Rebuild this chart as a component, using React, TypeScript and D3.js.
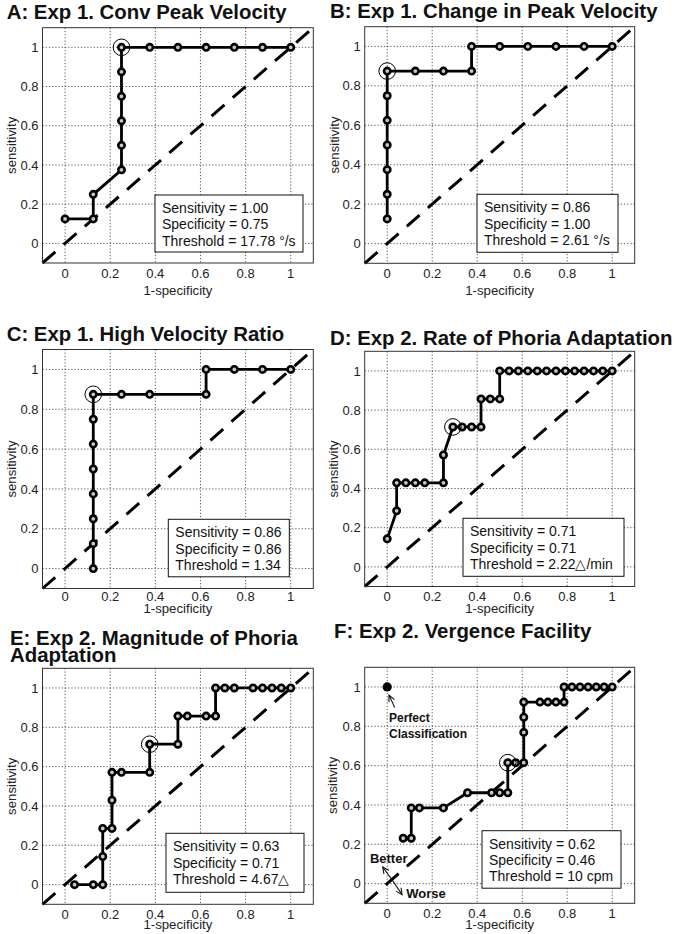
import * as d3 from 'd3';

const TICKS = [0, 0.2, 0.4, 0.6, 0.8, 1];
const TICK_LABELS = ['0', '0.2', '0.4', '0.6', '0.8', '1'];

// ROC points (x = 1-specificity, y = sensitivity)
const A_FPR = [0, 0.125, 0.125, 0.25, 0.25, 0.25, 0.25, 0.25, 0.25, 0.375, 0.5, 0.625, 0.75, 0.875, 1];
const A_TPR = [0.125, 0.125, 0.25, 0.375, 0.5, 0.625, 0.75, 0.875, 1, 1, 1, 1, 1, 1, 1];

const B_FPR = [0, 0, 0, 0, 0, 0, 0, 0.125, 0.25, 0.375, 0.375, 0.5, 0.625, 0.75, 0.875, 1];
const B_TPR = [0.125, 0.25, 0.375, 0.5, 0.625, 0.75, 0.875, 0.875, 0.875, 0.875, 1, 1, 1, 1, 1, 1];

const C_FPR = [0.125, 0.125, 0.125, 0.125, 0.125, 0.125, 0.125, 0.125, 0.25, 0.375, 0.625, 0.625, 0.75, 0.875, 1];
const C_TPR = [0, 0.125, 0.25, 0.375, 0.5, 0.625, 0.75, 0.875, 0.875, 0.875, 0.875, 1, 1, 1, 1];

const D_FPR = [0, 0.042, 0.042, 0.083, 0.125, 0.167, 0.25, 0.25, 0.292, 0.333, 0.375, 0.417, 0.417, 0.458, 0.5,
  0.5, 0.542, 0.583, 0.625, 0.667, 0.708, 0.75, 0.792, 0.833, 0.875, 0.917, 0.958, 1];
const D_TPR = [0.143, 0.286, 0.429, 0.429, 0.429, 0.429, 0.429, 0.571, 0.714, 0.714, 0.714, 0.714, 0.857, 0.857, 0.857,
  1, 1, 1, 1, 1, 1, 1, 1, 1, 1, 1, 1, 1];

const E_FPR = [0.042, 0.125, 0.167, 0.167, 0.167, 0.208, 0.208, 0.208, 0.25, 0.375, 0.375, 0.5, 0.5, 0.542, 0.625,
  0.667, 0.667, 0.708, 0.75, 0.833, 0.875, 0.917, 0.958, 1];
const E_TPR = [0, 0, 0, 0.143, 0.286, 0.286, 0.429, 0.571, 0.571, 0.571, 0.714, 0.714, 0.857, 0.857, 0.857,
  0.857, 1, 1, 1, 1, 1, 1, 1, 1];

const F_FPR = [0.071, 0.107, 0.107, 0.143, 0.25, 0.357, 0.464, 0.5, 0.536, 0.536, 0.571, 0.607, 0.607, 0.607, 0.607,
  0.679, 0.714, 0.75, 0.786, 0.786, 0.821, 0.857, 0.893, 0.929, 0.964, 1];
const F_TPR = [0.231, 0.231, 0.385, 0.385, 0.385, 0.462, 0.462, 0.462, 0.462, 0.615, 0.615, 0.615, 0.769, 0.846, 0.923,
  0.923, 0.923, 0.923, 0.923, 1, 1, 1, 1, 1, 1, 1];

const OPT_FPR = [0.25, 0, 0.125, 0.292, 0.375, 0.536];
const OPT_TPR = [1, 0.875, 0.875, 0.714, 0.714, 0.615];

const TITLES = [
  ['A: Exp 1. Conv Peak Velocity'],
  ['B: Exp 1. Change in Peak Velocity'],
  ['C: Exp 1. High Velocity Ratio'],
  ['D: Exp 2. Rate of Phoria Adaptation'],
  ['E: Exp 2. Magnitude of Phoria', 'Adaptation'],
  ['F: Exp 2. Vergence Facility'],
];

const LEGENDS = [
  ['Sensitivity = 1.00', 'Specificity = 0.75', 'Threshold = 17.78 \u00b0/s'],
  ['Sensitivity = 0.86', 'Specificity = 1.00', 'Threshold = 2.61 \u00b0/s'],
  ['Sensitivity = 0.86', 'Specificity = 0.86', 'Threshold = 1.34'],
  ['Sensitivity = 0.71', 'Specificity = 0.71', 'Threshold = 2.22\u25b3/min'],
  ['Sensitivity = 0.63', 'Specificity = 0.71', 'Threshold = 4.67\u25b3'],
  ['Sensitivity = 0.62', 'Specificity = 0.46', 'Threshold = 10 cpm'],
];

const SERIES = [
  [A_FPR, A_TPR], [B_FPR, B_TPR], [C_FPR, C_TPR],
  [D_FPR, D_TPR], [E_FPR, E_TPR], [F_FPR, F_TPR],
];

const FONT = '"Liberation Sans", Arial, sans-serif';

// layout of each panel (pixels)
const LAYOUT = [
  { left: 42.5, right: 313.3, top: 27.7, bottom: 263, titleX: 6.7, titleY: 19, tickY: 278, labelY: 295, ylabX: 11, box: [155, 195, 148, 57] },
  { left: 364.7, right: 634.7, top: 26.7, bottom: 263.3, titleX: 330, titleY: 18, tickY: 277.5, labelY: 295, ylabX: 334, box: [477, 194.3, 141, 58] },
  { left: 42.5, right: 313.3, top: 349.5, bottom: 588.5, titleX: 6.7, titleY: 340.5, tickY: 600.7, labelY: 612.5, ylabX: 11, box: [168.3, 519.3, 121, 57.5] },
  { left: 364.7, right: 634.7, top: 351.3, bottom: 586.5, titleX: 330, titleY: 345, tickY: 600.7, labelY: 612.5, ylabX: 333, box: [463, 518.3, 161, 58] },
  { left: 42.5, right: 313.3, top: 668.3, bottom: 904.3, titleX: 10, titleY: 645, tickY: 918.5, labelY: 929, ylabX: 11, box: [166, 833.3, 138, 59] },
  { left: 364.7, right: 634.7, top: 667.3, bottom: 903.3, titleX: 334, titleY: 638, tickY: 918, labelY: 928.5, ylabX: 332, box: [482, 830.7, 139, 57.5] },
];

function Arrow({ x1, y1, x2, y2 }: { x1: number; y1: number; x2: number; y2: number }) {
  const a = Math.atan2(y2 - y1, x2 - x1);
  const len = 7;
  const spread = 0.45;
  const h1 = [x2 - len * Math.cos(a - spread), y2 - len * Math.sin(a - spread)];
  const h2 = [x2 - len * Math.cos(a + spread), y2 - len * Math.sin(a + spread)];
  return (
    <g stroke="#111" strokeWidth={1.1} fill="none">
      <line x1={x1} y1={y1} x2={x2} y2={y2} />
      <polyline points={`${h1[0]},${h1[1]} ${x2},${y2} ${h2[0]},${h2[1]}`} />
    </g>
  );
}

function RocPanel({ i }: { i: number }) {
  const L = LAYOUT[i];
  const [fpr, tpr] = SERIES[i];
  const x = d3.scaleLinear().domain([-0.1, 1.1]).range([L.left, L.right]);
  const y = d3.scaleLinear().domain([-0.1, 1.1]).range([L.bottom, L.top]);
  const pts = fpr.map((f, k) => [f, tpr[k]] as [number, number]);
  const line = d3.line<[number, number]>().x(d => x(d[0])).y(d => y(d[1]));
  const [bx, by, bw, bh] = L.box;
  const cy = (L.top + L.bottom) / 2;

  return (
    <g fontFamily={FONT}>
      {/* Title */}
      {TITLES[i].map((t, k) => (
        <text key={k} x={L.titleX} y={L.titleY + k * 16.5} fontSize={20.4} fontWeight={700} fill="#111">{t}</text>
      ))}

      <rect x={L.left} y={L.top} width={L.right - L.left} height={L.bottom - L.top} fill="#fff" />

      {/* Grid */}
      {TICKS.map(t => (
        <g key={t} stroke="#444" strokeWidth={0.9} strokeDasharray="1.2 2">
          <line x1={x(t)} x2={x(t)} y1={L.top} y2={L.bottom} />
          <line x1={L.left} x2={L.right} y1={y(t)} y2={y(t)} />
        </g>
      ))}

      {/* Tick labels */}
      {TICKS.map((t, k) => (
        <g key={`l${t}`} fontSize={13} fill="#222">
          <text x={x(t)} y={L.tickY} textAnchor="middle">{TICK_LABELS[k]}</text>
          <text x={L.left - 4} y={y(t) + 4.6} textAnchor="end">{TICK_LABELS[k]}</text>
        </g>
      ))}

      <text x={(L.left + L.right) / 2} y={L.labelY} textAnchor="middle" fontSize={13.2} fill="#222">1-specificity</text>
      <text transform={`translate(${L.ylabX},${cy}) rotate(-90)`} textAnchor="middle" dominantBaseline="central" fontSize={13.2} fill="#222">sensitivity</text>

      {/* Chance diagonal */}
      <line x1={x(-0.1)} y1={y(-0.1)} x2={x(1.1)} y2={y(1.1)} stroke="#000" strokeWidth={3} strokeDasharray="17 11" />

      {/* ROC curve */}
      <path d={line(pts) ?? ''} fill="none" stroke="#000" strokeWidth={2.8} strokeLinejoin="round" />
      {pts.map((d, k) => (
        <circle key={k} cx={x(d[0])} cy={y(d[1])} r={3.2} fill="#c8c8c8" stroke="#000" strokeWidth={2.6} />
      ))}

      {/* Optimal point */}
      <circle cx={x(OPT_FPR[i])} cy={y(OPT_TPR[i])} r={8.3} fill="none" stroke="#000" strokeWidth={1} />

      {/* Frame */}
      <rect x={L.left} y={L.top} width={L.right - L.left} height={L.bottom - L.top} fill="none" stroke="#333" strokeWidth={1} />

      {/* Legend box */}
      <rect x={bx} y={by} width={bw} height={bh} fill="#fff" stroke="#111" strokeWidth={1} />
      {LEGENDS[i].map((s, k) => (
        <text key={k} x={bx + 7} y={by + 18 + k * 16.3} fontSize={14} fill="#111">{s}</text>
      ))}

      {i === 5 && (
        <g>
          <circle cx={x(0)} cy={y(1)} r={4.6} fill="#000" />
          <Arrow x1={x(0.034)} y1={y(0.895)} x2={x(0.008)} y2={y(0.958)} />
          <text x={x(0.008)} y={y(0.822)} fontSize={12} fontWeight={700} fill="#111">Perfect</text>
          <text x={x(0.008)} y={y(0.742)} fontSize={12} fontWeight={700} fill="#111">Classification</text>
          <Arrow x1={x(0.023)} y1={y(0.017)} x2={x(-0.02)} y2={y(0.085)} />
          <Arrow x1={x(0.023)} y1={y(0.017)} x2={x(0.066)} y2={y(-0.056)} />
          <text x={x(-0.077)} y={y(0.105)} fontSize={13} fontWeight={700} fill="#111">Better</text>
          <text x={x(0.085)} y={y(-0.075)} fontSize={13} fontWeight={700} fill="#111">Worse</text>
        </g>
      )}
    </g>
  );
}

export default function App() {
  return (
    <svg width={675} height={934} style={{ position: 'absolute', left: 0, top: 0, background: '#fff' }}>
      <rect width={675} height={934} fill="#fff" />
      {LAYOUT.map((_, i) => <RocPanel key={i} i={i} />)}
    </svg>
  );
}
